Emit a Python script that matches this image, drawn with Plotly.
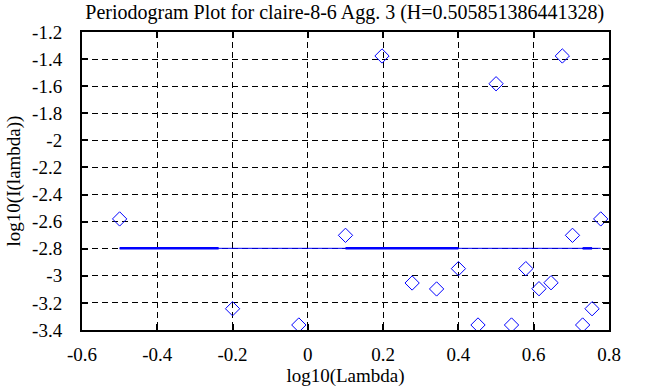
import plotly.graph_objects as go

log_lambda = [-0.5, -0.2, -0.024, 0.1, 0.197, 0.277, 0.342, 0.4, 0.452, 0.5,
              0.541, 0.579, 0.614, 0.646, 0.676, 0.703, 0.73, 0.755, 0.778]
log_I = [-2.58, -3.243, -3.363, -2.701, -1.377, -3.053, -3.097, -2.947, -3.363, -1.582,
         -3.363, -2.947, -3.095, -3.051, -1.377, -2.701, -3.363, -3.243, -2.58]

fit_level = -2.797
fit_x = [-0.5, 0.778]
thick_segments = [[-0.5, -0.237], [0.1, 0.4], [0.73, 0.755]]

x_ticks = [-0.6, -0.4, -0.2, 0, 0.2, 0.4, 0.6, 0.8]
x_ticktext = ["-0.6", "-0.4", "-0.2", "0", "0.2", "0.4", "0.6", "0.8"]
y_ticks = [-1.2, -1.4, -1.6, -1.8, -2, -2.2, -2.4, -2.6, -2.8, -3, -3.2, -3.4]
y_ticktext = ["-1.2", "-1.4", "-1.6", "-1.8", "-2", "-2.2", "-2.4", "-2.6", "-2.8", "-3", "-3.2", "-3.4"]

title = "Periodogram Plot for claire-8-6 Agg. 3 (H=0.505851386441328)"
FONT = "Liberation Serif"

fig = go.Figure()
fig.add_trace(go.Scatter(x=log_lambda, y=log_I, mode="markers",
                         marker=dict(symbol="diamond-open", size=11,
                                     color="#0000ff", line=dict(width=1, color="#0000ff")),
                         showlegend=False, hoverinfo="skip"))
fig.add_trace(go.Scatter(x=fit_x, y=[fit_level, fit_level], mode="lines",
                         line=dict(color="#0000ff", width=1), showlegend=False, hoverinfo="skip"))
for seg in thick_segments:
    fig.add_trace(go.Scatter(x=seg, y=[fit_level, fit_level], mode="lines",
                             line=dict(color="#0000ff", width=2.5), showlegend=False,
                             hoverinfo="skip"))

axis_common = dict(showline=True, linecolor="black", linewidth=2, mirror="ticks",
                   ticks="inside", ticklen=6, tickwidth=2, tickcolor="black",
                   showgrid=True, gridcolor="black", gridwidth=1, griddash="6px,4px",
                   zeroline=False, automargin=False,
                   tickfont=dict(family=FONT, size=19, color="black"),
                   title_font=dict(family=FONT, size=19, color="black"))

fig.update_xaxes(range=[-0.6, 0.8], tickvals=x_ticks, ticktext=x_ticktext,
                 title_text="log10(Lambda)", title_standoff=5, ticklabelstandoff=6,
                 **axis_common)
fig.update_yaxes(range=[-3.4, -1.2], tickvals=y_ticks, ticktext=y_ticktext,
                 title_text="log10(I(lambda))", title_standoff=6, ticklabelstandoff=14,
                 **axis_common)

fig.update_layout(width=653, height=387, plot_bgcolor="white", paper_bgcolor="white",
                  margin=dict(l=82, r=44, t=32, b=57),
                  title=dict(text=title, x=0.528, xanchor="center", y=0.968, yanchor="middle",
                             font=dict(family=FONT, size=20, color="black")))

fig.write_html("out.html", config={"displayModeBar": False},
               post_script="document.body.style.margin='0';")
